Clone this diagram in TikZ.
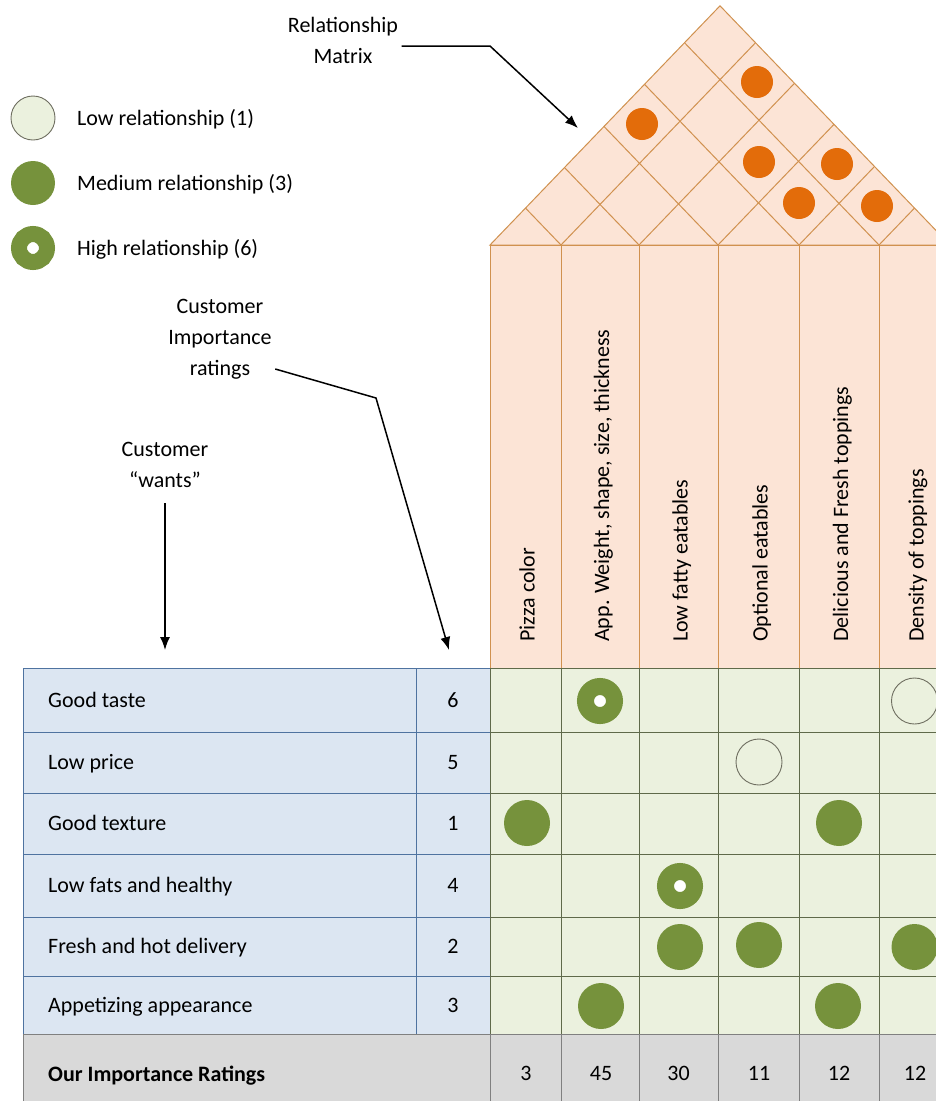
\documentclass[tikz,border=0pt]{standalone}
\usepackage{fontspec}
\setmainfont{Carlito}
\usetikzlibrary{arrows.meta,calc}

\definecolor{roofFill}{HTML}{FCE4D6}
\definecolor{roofLine}{HTML}{D0914F}
\definecolor{roofDot}{HTML}{E36C0A}
\definecolor{gridFill}{HTML}{EBF1DE}
\definecolor{gridLine}{HTML}{5F6A4A}
\definecolor{relGreen}{HTML}{76923C}
\definecolor{lowEdge}{HTML}{6E6E60}
\definecolor{wantFill}{HTML}{DCE6F2}
\definecolor{wantLine}{HTML}{4F73A0}
\definecolor{sumFill}{HTML}{D9D9D9}
\definecolor{sumLine}{HTML}{808080}

\tikzset{
  roofline/.style={draw=roofLine, line width=1pt},
  gridline/.style={draw=gridLine, line width=0.9pt},
  wantline/.style={draw=wantLine, line width=0.9pt},
  sumline/.style={draw=sumLine, line width=0.9pt},
  lowrel/.style={circle, draw=lowEdge, line width=0.9pt, minimum size=46pt, inner sep=0pt},
  medrel/.style={circle, fill=relGreen, minimum size=46pt, inner sep=0pt},
  highrel/.style={circle, draw=relGreen, fill=white, line width=17pt, minimum size=29pt, inner sep=0pt},
  tiedot/.style={circle, fill=roofDot, minimum size=32pt, inner sep=0pt},
  label/.style={anchor=base west, inner sep=0pt},
  num/.style={anchor=base, inner sep=0pt},
  header/.style={rotate=90, anchor=base west, inner sep=0pt},
  note/.style={align=center},
  pointer/.style={draw=black, line width=1.5pt, -{Latex[length=13pt,width=10pt]}},
}

\begin{document}
\begin{tikzpicture}[x=1pt, y=-1pt, font=\fontsize{22}{31}\selectfont]
\useasboundingbox (0,0) rectangle (936,1101);
\clip (0,0) rectangle (936,1101);

% ---- roof: correlation triangle ----
\def\k{1.04}
\filldraw[fill=roofFill, roofline] (490,245) -- (720,{245-\k*230}) -- (950,245) -- cycle;
\foreach \b in {561,639,718,799,879} {
  \draw[roofline] (\b,245) -- ({\b-(\b-490)/2},{245-\k*(\b-490)/2});
  \draw[roofline] (\b,245) -- ({\b+(950-\b)/2},{245-\k*(950-\b)/2});
}
\node[tiedot] (t14) at (642,124) {};
\node[tiedot] (t26) at (757,82) {};
\node[tiedot] (t35) at (759,162) {};
\node[tiedot] (t46) at (837,164) {};
\node[tiedot] (t45) at (799,203) {};
\node[tiedot] (t56) at (877,206) {};

% ---- technical requirement headers ----
\filldraw[fill=roofFill, roofline] (490,245) rectangle (950,668);
\foreach \x in {561,639,718,799,879} \draw[roofline] (\x,245) -- (\x,668);
\node[header] (c1) at (534.5,642) {Pizza color};
\node[header] (c2) at (609,642) {App. Weight, shape, size, thickness};
\node[header] (c3) at (687.5,642) {Low fatty eatables};
\node[header] (c4) at (767.5,642) {Optional eatables};
\node[header] (c5) at (848,642) {Delicious and Fresh toppings};
\node[header] (c6) at (923.5,642) {Density of toppings};

% ---- relationship grid ----
\fill[gridFill] (490,668) rectangle (950,1034);
\foreach \y in {732,793,854,917,976} \draw[gridline] (490,\y) -- (950,\y);
\foreach \x in {561,639,718,799,879} \draw[gridline] (\x,668) -- (\x,1034);
\draw[gridline] (490,668) -- (950,668);

% ---- customer wants ----
\fill[wantFill] (23,668) rectangle (490,1034);
\foreach \y in {732,793,854,917,976} \draw[wantline] (23,\y) -- (490,\y);
\draw[wantline] (23,668) -- (490,668);
\draw[wantline] (23,668) -- (23,1034);
\draw[wantline] (416,668) -- (416,1034);
\draw[gridline] (490,668) -- (490,1034);

\foreach \yc/\txt/\rate [count=\i] in {700/Good taste/6, 762.5/Low price/5, 823.5/Good texture/1,
    885.5/Low fats and healthy/4, 946.5/Fresh and hot delivery/2, 1005/Appetizing appearance/3} {
  \node[label] (w\i) at (48,\yc+7) {\txt};
  \node[num] (r\i) at (453,\yc+7) {\rate};
}

% ---- relationship symbols ----
\node[highrel] (g12) at (600,701) {};
\node[lowrel]  (g16) at (914.5,701) {};
\node[lowrel]  (g24) at (759,762) {};
\node[medrel]  (g31) at (527,823) {};
\node[medrel]  (g35) at (839,823) {};
\node[highrel] (g43) at (680,886) {};
\node[medrel]  (g53) at (680,947) {};
\node[medrel]  (g54) at (759,945) {};
\node[medrel]  (g56) at (914.5,947) {};
\node[medrel]  (g62) at (601,1006) {};
\node[medrel]  (g65) at (838,1006) {};

% ---- importance totals ----
\fill[sumFill] (23,1034) rectangle (950,1115);
\draw[sumline] (23,1034) -- (950,1034);
\draw[sumline] (23,1034) -- (23,1115);
\foreach \x in {490,561,639,718,799,879} \draw[sumline] (\x,1034) -- (\x,1115);
\node[label, font=\fontsize{22}{31}\selectfont\bfseries] (tot) at (48,1081) {Our Importance Ratings};
\foreach \x/\v [count=\i] in {526/3, 601/45, 678.5/30, 759/11, 839/12, 915/12}
  \node[num] (s\i) at (\x,1080) {\v};

% ---- legend ----
\node[lowrel, fill=gridFill, minimum size=44pt] (lg1) at (33,118) {};
\node[medrel, minimum size=44pt] (lg2) at (33,183) {};
\node[highrel, line width=16pt, minimum size=28pt] (lg3) at (33,248) {};
\node[label] (lt1) at (77,125) {Low relationship (1)};
\node[label] (lt2) at (77,190) {Medium relationship (3)};
\node[label] (lt3) at (77,255) {High relationship (6)};

% ---- annotations ----
\node[note] (relm) at (343,40) {Relationship\\Matrix};
\coordinate (rmbend) at (490,46);
\coordinate (rmtip) at (578,128);
\draw[pointer] ([yshift=-6pt]relm.east) -- (rmbend) -- (rmtip);

\node[note] (cir) at (220,339) {Customer\\Importance\\ratings};
\coordinate (cibend) at (376,398);
\coordinate (citip) at (449,650);
\draw[pointer] ([yshift=-30pt]cir.east) -- (cibend) -- (citip);

\node[note] (cw) at (165,465) {Customer\\“wants”};
\coordinate (cwtip) at (165,650);
\draw[pointer] ([yshift=-12pt]cw.south) -- (cwtip);
\end{tikzpicture}
\end{document}
